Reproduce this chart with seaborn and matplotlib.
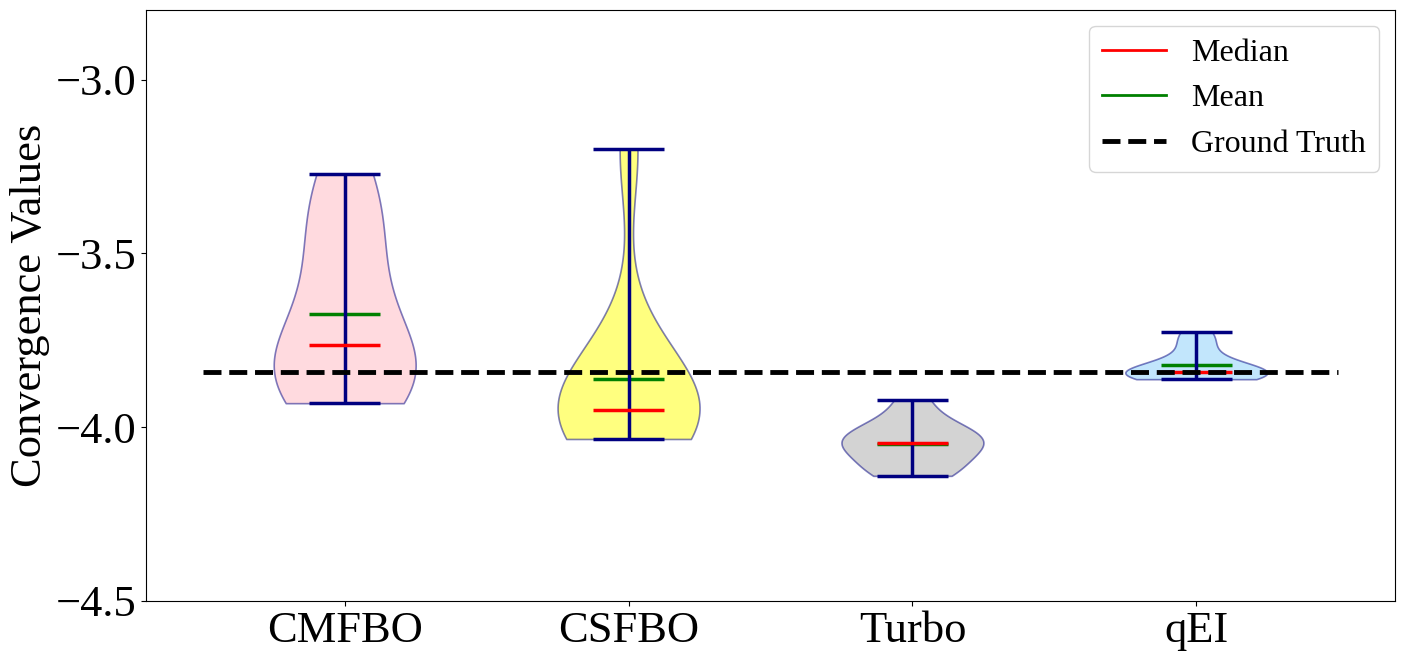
import numpy as np
import pandas as pd
import matplotlib
matplotlib.use("Agg")
import matplotlib.pyplot as plt
from matplotlib.lines import Line2D
import seaborn as sns

# ---- data ----
methods = ["CMFBO", "CSFBO", "Turbo", "qEI"]
cmfbo_vals = [-3.931, -3.90, -3.86, -3.83, -3.79, -3.74, -3.58, -3.49, -3.36, -3.272]
csfbo_vals = [-4.034, -4.01, -3.99, -3.97, -3.96, -3.942, -3.90, -3.85, -3.75, -3.20]
turbo_vals = [-4.140, -4.13, -4.10, -4.07, -4.05, -4.042, -4.03, -4.01, -3.99, -3.923]
qei_vals = [-3.862, -3.855, -3.85, -3.845, -3.842, -3.838, -3.83, -3.80, -3.76, -3.725]
ground_truth = -3.842
y_ticks = [-4.5, -4.0, -3.5, -3.0]

series = [cmfbo_vals, csfbo_vals, turbo_vals, qei_vals]
df = pd.DataFrame({
    "method": np.repeat(methods, [len(s) for s in series]),
    "value": np.concatenate(series),
})

fill_colors = ["lightpink", "yellow", "darkgray", "lightskyblue"]

plt.rcParams["font.family"] = ["Liberation Serif", "DejaVu Serif"]

fig, ax = plt.subplots(figsize=(14.05, 6.61), dpi=100)
fig.subplots_adjust(left=0.1039, right=0.9929, top=0.9849, bottom=0.0908)

sns.violinplot(data=df, x="method", y="value", hue="method", order=methods,
               hue_order=methods, palette=fill_colors, cut=0, inner=None,
               density_norm="width", width=0.5, linewidth=1.2, linecolor="navy",
               saturation=1, legend=False, ax=ax)
for coll in ax.collections:
    coll.set_alpha(0.5)

cap = 0.125
for i, vals in enumerate(series):
    v = np.asarray(vals)
    ax.hlines(np.mean(v), i - cap, i + cap, color="green", lw=2.5, zorder=3)
    ax.hlines([v.min(), v.max()], i - cap, i + cap, color="navy", lw=2.5, zorder=3)
    ax.vlines(i, v.min(), v.max(), color="navy", lw=2.5, zorder=3)
    ax.hlines(np.median(v), i - cap, i + cap, color="red", lw=2.5, zorder=3)

gt = ax.hlines(ground_truth, -0.5, len(methods) - 0.5, colors="black",
               linestyles="--", lw=3.5, zorder=4)

ax.set_xlim(-0.7, len(methods) - 0.3)
ax.set_ylim(-4.5, -2.8)
ax.set_yticks(y_ticks)
ax.set_xlabel("")
ax.set_ylabel("Convergence Values", fontsize=32)
ax.tick_params(axis="both", labelsize=32)

handles = [Line2D([], [], color="red", lw=2),
           Line2D([], [], color="green", lw=2),
           Line2D([], [], color="black", ls="--", lw=3.5)]
ax.legend(handles, ["Median", "Mean", "Ground Truth"], loc="upper right",
          fontsize=23)

fig.savefig("out.png", dpi=100)
